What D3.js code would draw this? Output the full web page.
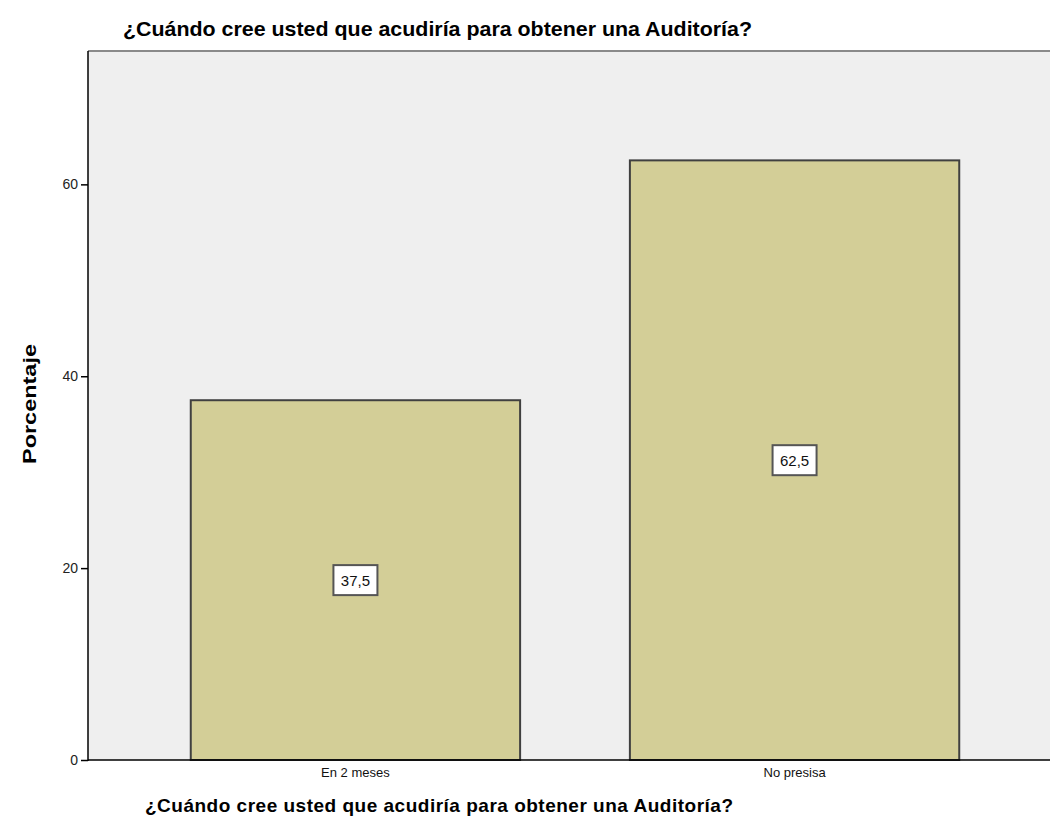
<!DOCTYPE html>
<html><head><meta charset="utf-8">
<script src="https://cdn.jsdelivr.net/npm/d3@7"></script>
<style>body{margin:0;background:#fff;} text{font-family:"Liberation Sans",Arial,sans-serif;}</style>
</head><body>
<svg id="c" width="1050" height="839"></svg>
<script>
const categories = ["En 2 meses", "No presisa"];
const values = [37.5, 62.5];
const labels = ["37,5", "62,5"];
const yTicks = [0, 20, 40, 60];
const title = "¿Cuándo cree usted que acudiría para obtener una Auditoría?";
const yTitle = "Porcentaje";

const svg = d3.select("#c");
const L = 88, T = 51, R = 1062, B = 760;
const y = d3.scaleLinear().domain([0, 73.9]).range([B, T]);
const x = d3.scaleBand().domain(categories).range([L, R]).paddingInner(0.25).paddingOuter(0.234);

svg.append("rect").attr("x", L).attr("y", T).attr("width", 1050 - L).attr("height", B - T).attr("fill", "#efefef");
svg.append("line").attr("x1", L).attr("x2", 1050).attr("y1", T).attr("y2", T).attr("stroke", "#8a8a8a").attr("stroke-width", 2);

const g = svg.append("g");
g.selectAll("rect.bar").data(values).enter().append("rect").attr("class", "bar")
  .attr("x", (d, i) => x(categories[i])).attr("y", d => y(d))
  .attr("width", x.bandwidth()).attr("height", d => B - y(d))
  .attr("fill", "#d3ce97").attr("stroke", "#404040").attr("stroke-width", 2);

// axes
const ya = svg.append("g").attr("transform", `translate(${L},0)`)
  .call(d3.axisLeft(y).tickValues(yTicks).tickSize(7).tickPadding(3).tickFormat(d3.format("d")));
ya.select(".domain").remove();
ya.selectAll(".tick line").attr("stroke", "#000").attr("stroke-width", 1.5);
ya.selectAll(".tick text").attr("font-size", 14).attr("fill", "#222").attr("font-family", "Liberation Sans, Arial, sans-serif");
svg.append("line").attr("x1", L).attr("x2", L).attr("y1", T).attr("y2", B + 1).attr("stroke", "#000").attr("stroke-width", 1.5);
svg.append("line").attr("x1", L).attr("x2", 1050).attr("y1", B).attr("y2", B).attr("stroke", "#000").attr("stroke-width", 1.5);

const xa = svg.append("g").attr("transform", `translate(0,${B})`)
  .call(d3.axisBottom(x).tickSize(0).tickPadding(8));
xa.select(".domain").remove();
xa.selectAll(".tick text").attr("font-size", 13).attr("fill", "#111").attr("font-family", "Liberation Sans, Arial, sans-serif");

// value labels
const lab = svg.append("g").selectAll("g").data(values).enter().append("g")
  .attr("transform", (d, i) => `translate(${x(categories[i]) + x.bandwidth() / 2},${y(d / 2)})`);
lab.append("rect").attr("x", -22).attr("y", -15).attr("width", 44).attr("height", 30)
  .attr("fill", "#fff").attr("stroke", "#555").attr("stroke-width", 2);
lab.append("text").attr("text-anchor", "middle").attr("dy", "0.36em").attr("font-size", 15).attr("fill", "#111")
  .text((d, i) => labels[i]);

svg.append("text").attr("x", 123).attr("y", 36)
  .attr("font-size", 21).attr("font-weight", "bold").attr("textLength", 629).attr("lengthAdjust", "spacingAndGlyphs").text(title);
svg.append("text").attr("x", 145).attr("y", 812)
  .attr("font-size", 19).attr("font-weight", "bold").attr("textLength", 588).attr("lengthAdjust", "spacing").text(title);
svg.append("text").attr("transform", "translate(36,404) rotate(-90)").attr("text-anchor", "middle")
  .attr("font-size", 19).attr("font-weight", "bold").attr("textLength", 120).attr("lengthAdjust", "spacingAndGlyphs").text(yTitle);
</script>
</body></html>
